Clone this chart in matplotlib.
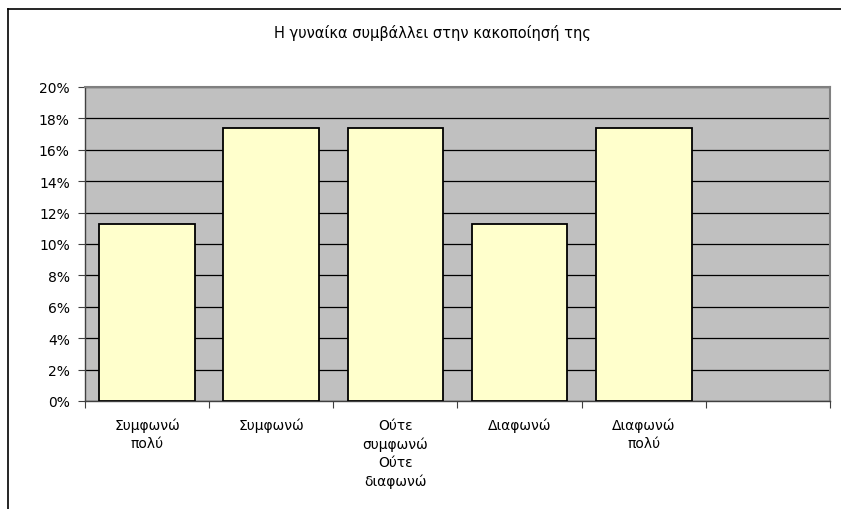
import matplotlib
matplotlib.use("Agg")
import matplotlib.pyplot as plt
from matplotlib.ticker import FixedLocator, FuncFormatter
from matplotlib.lines import Line2D

categories = ["Συμφωνώ\nπολύ", "Συμφωνώ", "Ούτε\nσυμφωνώ\nΟύτε\nδιαφωνώ", "Διαφωνώ", "Διαφωνώ\nπολύ", ""]
values = [11.3, 17.4, 17.4, 11.3, 17.4, None]
yticks = [0, 2, 4, 6, 8, 10, 12, 14, 16, 18, 20]
title = "Η γυναίκα συμβάλλει στην κακοποίησή της"

plt.rcParams['font.family'] = ['DejaVu Sans']

W, H = 841, 510
fig = plt.figure(figsize=(W / 100, H / 100), dpi=100)
fig.patch.set_facecolor("white")

left, right, top, bottom = 85, 830, 88, 402
ax = fig.add_axes([left / W, 1 - bottom / H, (right - left) / W, (bottom - top) / H])
ax.set_facecolor("#C0C0C0")

n = len(categories)
xs = list(range(n))
bx = [x for x, v in zip(xs, values) if v is not None]
bv = [v for v in values if v is not None]
ax.bar(bx, bv, width=0.77, color="#FFFFCC", edgecolor="black", linewidth=1.3, zorder=3)

ax.set_xlim(-0.5, n - 0.5)
ax.set_ylim(0, 20)
ax.set_yticks(yticks)
ax.yaxis.set_major_formatter(FuncFormatter(lambda v, p: f"{int(v)}%"))
ax.grid(axis="y", color="black", linewidth=0.9, zorder=1)
ax.set_axisbelow(True)

ax.xaxis.set_major_locator(FixedLocator([i - 0.5 for i in range(n + 1)]))
ax.xaxis.set_major_formatter(FuncFormatter(lambda v, p: ""))
ax.xaxis.set_minor_locator(FixedLocator(xs))
ax.set_xticklabels(categories, minor=True)
ax.tick_params(axis="x", which="minor", length=0, pad=12, labelsize=10)
for lbl in ax.get_xticklabels(minor=True):
    lbl.set_linespacing(1.38)
    lbl.set_va("top")
ax.tick_params(axis="x", which="major", length=5, width=0.8, color="#404040", direction="out")
ax.tick_params(axis="y", length=5, width=0.8, color="#404040", direction="out", labelsize=10, pad=6)

for s in ["top", "right"]:
    ax.spines[s].set_color("#808080")
    ax.spines[s].set_linewidth(1.5)
ax.spines["left"].set_color("#404040")
ax.spines["bottom"].set_color("#404040")
ax.spines["left"].set_linewidth(1.0)
ax.spines["bottom"].set_linewidth(1.0)

fig.text(432 / W, 1 - 33 / H, title, ha="center", va="center", fontsize=10.5)

# chart area border (top and left, as in reference)
fig.add_artist(Line2D([8 / W, 1], [1 - 10 / H, 1 - 10 / H], color="black", linewidth=1.2, transform=fig.transFigure))
fig.add_artist(Line2D([8 / W, 8 / W], [0, 1 - 10 / H], color="black", linewidth=1.2, transform=fig.transFigure))

fig.savefig("out.png", dpi=100)
